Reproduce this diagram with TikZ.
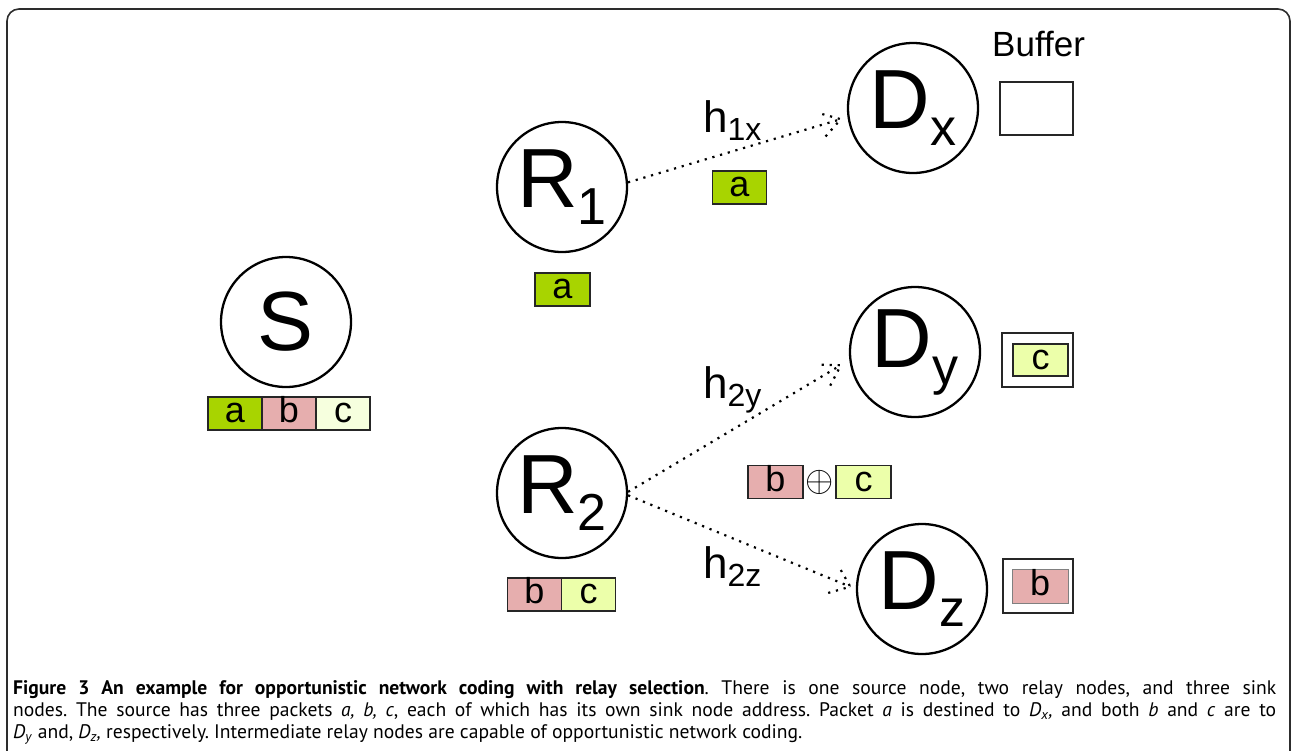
\documentclass[tikz,border=0pt]{standalone}
\usepackage{fontspec}
\setmainfont{Liberation Sans}
\newfontfamily\capfont{PT Sans}
\usetikzlibrary{calc}

\definecolor{pktA}{RGB}{168,212,0}
\definecolor{pktB}{RGB}{230,174,174}
\definecolor{pktC}{RGB}{236,255,170}
\definecolor{pktCpale}{RGB}{246,255,222}
\definecolor{framegray}{RGB}{45,45,45}

% lowered subscripts in the node labels
\newcommand\bigsub[1]{\raisebox{-17pt}{\fontsize{52}{52}\selectfont #1}}
\newcommand\hsub[1]{\raisebox{-8pt}{\fontsize{32}{32}\selectfont #1}}
% a caption line spread to the full text width
\newcommand\fullline[1]{\makebox[1263pt][s]{#1}}
\frenchspacing

\begin{document}
\begin{tikzpicture}[x=1pt,y=-1pt,
  station/.style={circle, draw, line width=2.3pt, minimum size=130pt,
    inner sep=0pt, font=\fontsize{84}{84}\selectfont},
  pkt/.style={draw=black!85, line width=1.2pt, minimum width=54pt,
    minimum height=33pt, inner sep=0pt, text height=22pt, text depth=4pt,
    font=\fontsize{36}{36}\selectfont},
  buf/.style={draw=black!85, line width=1.5pt, inner sep=0pt},
  link/.style={line width=2.2pt, dash pattern=on 2.2pt off 5.8pt},
  hlabel/.style={anchor=base west, inner sep=0pt, font=\fontsize{44}{44}\selectfont},
  capline/.style={anchor=base west, inner sep=0pt,
    font=\capfont\fontsize{19.6}{22}\selectfont}]
\useasboundingbox (0,0) rectangle (1293,750);

% frame
\draw[framegray, line width=1.6pt, rounded corners=12pt]
  (7,770) -- (7,9) -- (1290,9) -- (1290,770);

% stations
\node[station] (S)  at (286,322) {S};
\node[station] (R1) at (562,187) {R\bigsub{1}};
\node[station] (R2) at (562,493) {R\bigsub{2}};
\node[station] (Dx) at (913,108) {D\bigsub{x}};
\node[station] (Dy) at (915,352) {D\bigsub{y}};
\node[station] (Dz) at (922,589) {D\bigsub{z}};

% packets held by the source
\node[pkt, fill=pktA]     (sa) at (235,413.5) {a};
\node[pkt, fill=pktB]     (sb) at (289,413.5) {b};
\node[pkt, fill=pktCpale] (sc) at (343,413.5) {c};

% packets held by the relays
\node[pkt, fill=pktA, minimum width=55pt] (r1a) at (562.5,289.5) {a};
\node[pkt, fill=pktB] (r2b) at (534.5,594.5) {b};
\node[pkt, fill=pktC] (r2c) at (588.5,594.5) {c};

% packets on the air
\node[pkt, fill=pktA] (la) at (739.5,187.5) {a};
\node[pkt, fill=pktB, minimum width=55pt] (lb) at (775.5,482) {b};
\node[inner sep=0pt] (xor) at (819.5,482) {\scalebox{1.75}{\fontsize{20}{20}\selectfont$\oplus$}};
\node[pkt, fill=pktC, minimum width=55pt] (lc) at (863.5,482) {c};

% buffers of the sinks
\node[anchor=base west, inner sep=0pt, font=\fontsize{35}{35}\selectfont] (buflabel) at (992,56) {Buffer};
\node[buf, minimum width=73pt, minimum height=53pt] (bx) at (1036.5,108.5) {};
\node[buf, minimum width=71pt, minimum height=54pt] (by) at (1037.5,360) {};
\node[pkt, fill=pktC, minimum width=55pt, minimum height=32pt] (byc) at (1040.5,360) {c};
\node[buf, minimum width=70pt, minimum height=54pt] (bz) at (1038,586) {};
\node[pkt, fill=pktB, draw=black!50, line width=0.8pt, minimum width=56pt, minimum height=34pt] (bzb) at (1040,586) {b};

% channel labels
\node[hlabel] (h1x) at (703,132) {h\hsub{1x}};
\node[hlabel] (h2y) at (703,398) {h\hsub{2y}};
\node[hlabel] (h2z) at (703,578) {h\hsub{2z}};

% dotted links with open dotted heads
\coordinate (t1) at ($(Dx.188)!7pt!(R1.4)$);
\coordinate (t2) at ($(Dy.187)!10pt!(R2.1)$);
\coordinate (t3) at ($(Dz.180)!6pt!(R2.-2)$);
\draw[link] (R1.4) -- (t1);
\draw[link] ($(t1)!23pt!32:(R1.4)$) -- (t1) -- ($(t1)!23pt!-32:(R1.4)$);
\draw[link] (R2.1) -- (t2);
\draw[link] ($(t2)!23pt!32:(R2.1)$) -- (t2) -- ($(t2)!23pt!-32:(R2.1)$);
\draw[link] (R2.-2) -- (t3);
\draw[link] ($(t3)!23pt!38:(R2.-2)$) -- (t3) -- ($(t3)!23pt!-38:(R2.-2)$);

% caption
\node[capline] (cap1) at (13,694) {\fullline{\textbf{Figure 3 An example for opportunistic network coding with relay selection}. There is one source node, two relay nodes, and three sink}};
\node[capline] (cap2) at (13,716) {\fullline{nodes. The source has three packets \textit{a, b, c}, each of which has its own sink node address. Packet \textit{a} is destined to \textit{D}\textsubscript{\textit{x}}\textit{,} and both \textit{b} and \textit{c} are to}};
\node[capline] (cap3) at (13,738) {\textit{D}\textsubscript{\textit{y}} and, \textit{D}\textsubscript{\textit{z}}\textit{,} respectively. Intermediate relay nodes are capable of opportunistic network coding.};
\end{tikzpicture}
\end{document}
